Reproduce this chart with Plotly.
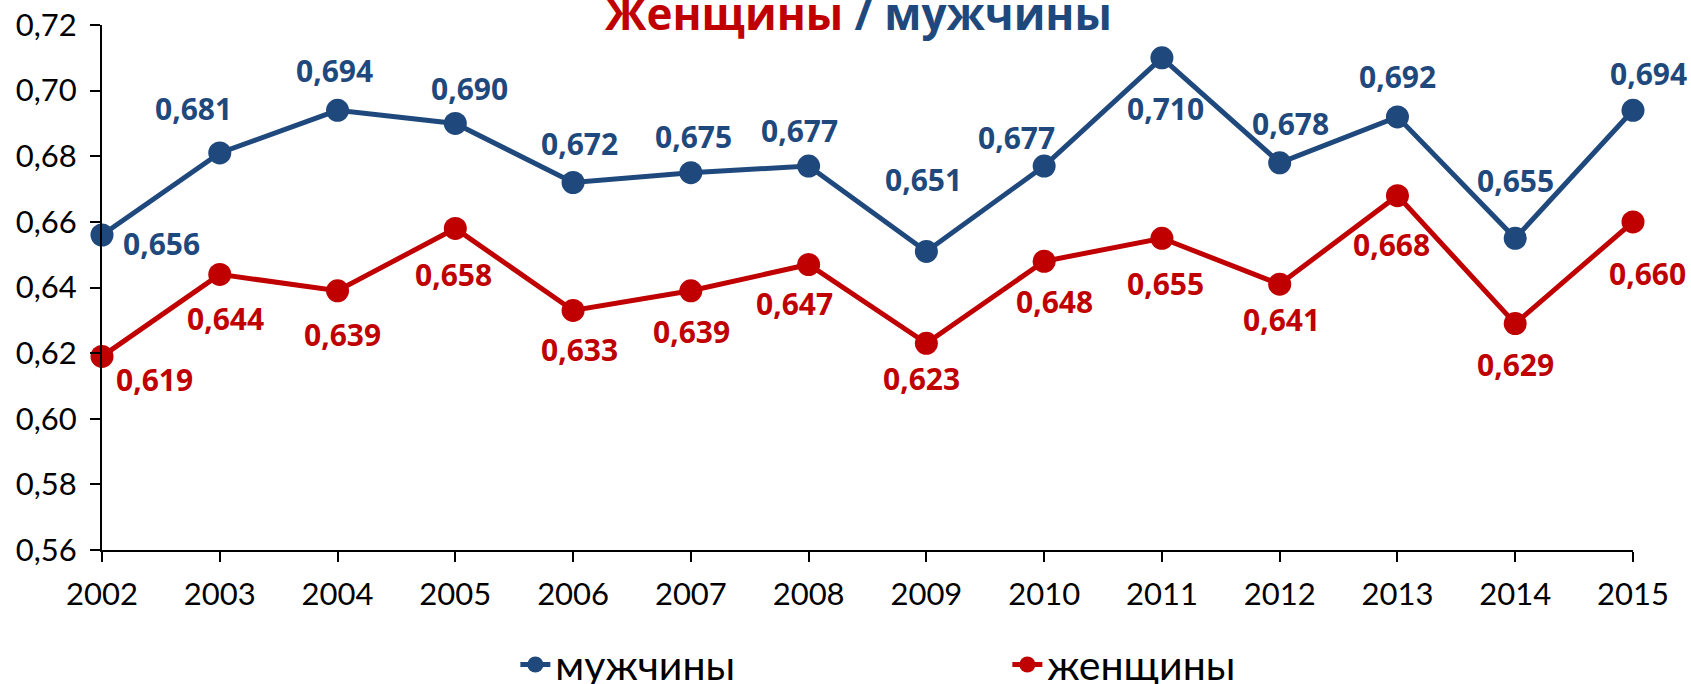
import plotly.graph_objects as go

years = [2002, 2003, 2004, 2005, 2006, 2007, 2008, 2009, 2010, 2011, 2012, 2013, 2014, 2015]
men = [0.656, 0.681, 0.694, 0.690, 0.672, 0.675, 0.677, 0.651, 0.677, 0.710, 0.678, 0.692, 0.655, 0.694]
women = [0.619, 0.644, 0.639, 0.658, 0.633, 0.639, 0.647, 0.623, 0.648, 0.655, 0.641, 0.668, 0.629, 0.660]
men_name = "мужчины"
women_name = "женщины"

# label offsets in pixels (dx right, dy down)
men_off = [(59, 8), (-26, -44), (-3, -40), (14, -35), (6, -39), (3, -36), (-9, -36),
           (-3, -72), (-28, -29), (4, 51), (11, -39), (0, -40), (0, -58), (15, -37)]
women_off = [(52, 23), (6, 44), (5, 44), (-2, 46), (6, 39), (1, 41), (-14, 39),
             (-5, 35), (10, 40), (4, 45), (2, 35), (-6, 49), (0, 41), (14, 52)]

BLUE = "#1F497D"
RED = "#C00000"

fig = go.Figure()
fig.add_trace(go.Scatter(x=years, y=men, name=men_name, mode="lines+markers",
                         line=dict(color=BLUE, width=5), marker=dict(color=BLUE, size=23),
                         cliponaxis=False))
fig.add_trace(go.Scatter(x=years, y=women, name=women_name, mode="lines+markers",
                         line=dict(color=RED, width=5), marker=dict(color=RED, size=23),
                         cliponaxis=False))

annotations = []
for series, offs, color in ((men, men_off, BLUE), (women, women_off, RED)):
    for x, v, (dx, dy) in zip(years, series, offs):
        annotations.append(dict(x=x, y=v, xref="x", yref="y", showarrow=False,
                                text="<b>" + f"{v:.3f}".replace(".", ",") + "</b>",
                                font=dict(family="Open Sans", size=30, color=color),
                                xshift=dx, yshift=-dy, xanchor="center", yanchor="middle"))

annotations.append(dict(
    x=0.4944, y=1, xref="paper", yref="paper", showarrow=False,
    text=f"<b><span style='color:{RED}'>Женщины</span> / <span style='color:{BLUE}'>мужчины</span></b>",
    font=dict(family="Open Sans", size=44, color=BLUE),
    xanchor="center", yanchor="middle", yshift=12))

fig.update_layout(
    width=1691, height=684,
    margin=dict(l=102, r=58, t=25, b=134, autoexpand=False),
    paper_bgcolor="white", plot_bgcolor="white",
    separators=", ",
    showlegend=True,
    legend=dict(orientation="h", x=0.27, xanchor="left", y=0.028, yref="container",
                yanchor="middle", entrywidth=447, entrywidthmode="pixels",
                font=dict(family="Lato", size=41, color="black")),
    annotations=annotations,
    xaxis=dict(range=[2002, 2015], tickvals=years, ticktext=[str(y) for y in years],
               showline=True, linewidth=2, linecolor="black", ticks="outside",
               ticklen=10, tickwidth=2, tickcolor="black", showgrid=False, zeroline=False,
               automargin=False,
               tickfont=dict(family="Lato", size=31, color="black"), ticklabelstandoff=6),
    yaxis=dict(range=[0.56, 0.72], dtick=0.02, tickformat=".2f",
               showline=True, linewidth=2, linecolor="black", ticks="outside",
               ticklen=10, tickwidth=2, tickcolor="black", showgrid=False, zeroline=False,
               automargin=False,
               tickfont=dict(family="Lato", size=31, color="black"), ticklabelstandoff=7),
)

fig.write_html("out.html", config={"displayModeBar": False},
               post_script="document.body.style.margin='0';")
